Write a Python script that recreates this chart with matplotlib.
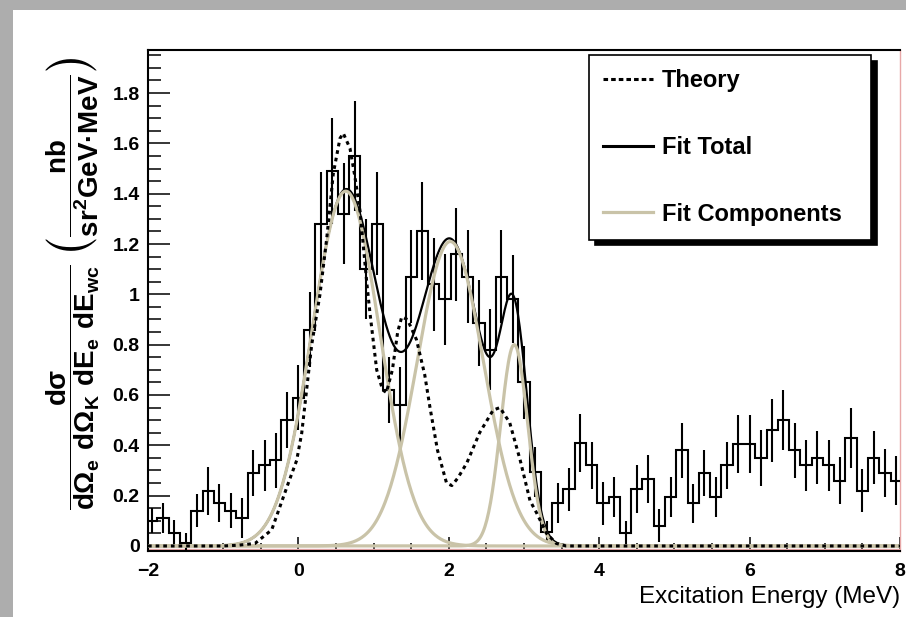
import numpy as np
import matplotlib
matplotlib.use("Agg")
import matplotlib.pyplot as plt
from matplotlib.lines import Line2D
from matplotlib.patches import Rectangle
from matplotlib.ticker import MultipleLocator, FuncFormatter

# --- histogram, 0.15 MeV bins, first bin centred at -1.95 MeV
bin_width = 0.15
first_centre = -1.95
counts = [0.10, 0.11, 0.05, 0.01, 0.14, 0.22, 0.17, 0.14, 0.11, 0.29,
          0.32, 0.34, 0.50, 0.59, 0.86, 1.28, 1.49, 1.32, 1.55, 1.10,
          1.28, 0.62, 0.56, 1.07, 1.25, 1.04, 0.98, 1.16, 1.07, 0.885,
          0.78, 1.07, 0.98, 0.65, 0.295, 0.055, 0.17, 0.225, 0.41, 0.32,
          0.17, 0.195, 0.05, 0.225, 0.265, 0.08, 0.195, 0.38, 0.17, 0.29,
          0.195, 0.32, 0.405, 0.405, 0.35, 0.46, 0.50, 0.38, 0.32, 0.35,
          0.32, 0.26, 0.43, 0.22, 0.35, 0.29, 0.26]
errors = [0.05, 0.06, 0.055, 0.04, 0.065, 0.095, 0.075, 0.07, 0.08, 0.093,
          0.10, 0.11, 0.11, 0.13, 0.15, 0.205, 0.21, 0.20, 0.22, 0.20,
          0.205, 0.13, 0.15, 0.185, 0.195, 0.185, 0.18, 0.185, 0.185, 0.17,
          0.16, 0.185, 0.175, 0.145, 0.10, 0.045, 0.08, 0.085, 0.115, 0.095,
          0.085, 0.08, 0.05, 0.095, 0.095, 0.065, 0.08, 0.11, 0.078, 0.093,
          0.078, 0.095, 0.115, 0.115, 0.11, 0.125, 0.12, 0.11, 0.10, 0.105,
          0.10, 0.093, 0.12, 0.086, 0.105, 0.096, 0.097]

theory_e = [-2.0, -1.0, -0.8, -0.577, -0.355, -0.134, -0.023, 0.044, 0.177, 0.287,
            0.376, 0.464, 0.553, 0.597, 0.686, 0.75, 0.82, 0.908, 0.95, 1.041,
            1.12, 1.17, 1.25, 1.32, 1.374, 1.45, 1.57, 1.68, 1.75, 1.85,
            1.97, 2.04, 2.12, 2.24, 2.41, 2.59, 2.68, 2.81, 2.95, 3.08,
            3.17, 3.30, 3.43, 3.56, 8.0]
theory_y = [0.0, 0.0, 0.003, 0.01, 0.064, 0.25, 0.34, 0.448, 0.80, 1.0,
            1.22, 1.48, 1.62, 1.64, 1.58, 1.47, 1.33, 1.05, 0.93, 0.70,
            0.62, 0.61, 0.70, 0.85, 0.91, 0.90, 0.82, 0.68, 0.55, 0.38,
            0.25, 0.24, 0.27, 0.33, 0.45, 0.54, 0.55, 0.49, 0.34, 0.18,
            0.13, 0.05, 0.01, 0.0, 0.0]

# --- gaussian fit components (amplitude, mean, sigma)
comp_amp = [1.41, 1.21, 0.80]
comp_mean = [0.63, 2.02, 2.87]
comp_sigma = [0.45, 0.44, 0.18]
fit_lo, fit_hi = -2.0, 8.0

x_ticks = [-2, 0, 2, 4, 6, 8]
legend_labels = ["Theory", "Fit Total", "Fit Components"]

tan = "#c9c3a8"
pink = "#e8a8a8"

plt.rcParams['font.family'] = ['Liberation Sans', 'DejaVu Sans']
plt.rcParams['font.weight'] = 'bold'
plt.rcParams['mathtext.default'] = 'regular'

fig = plt.figure(figsize=(9.06, 6.17), dpi=100, facecolor="#adadad")
# white pad inside the grey canvas
fig.patches.append(Rectangle((13 / 906, 0), 1, 607 / 617, transform=fig.transFigure,
                             facecolor="white", edgecolor="none", zorder=-5))

ax = fig.add_axes([148 / 906, 66 / 617, 752 / 906, 501 / 617])
ax.set_zorder(1)

centres = first_centre + bin_width * np.arange(len(counts))
edges = np.append(centres - bin_width / 2, centres[-1] + bin_width / 2)
edges = np.clip(edges, -2, 8)

ax.stairs(counts, edges, color="black", lw=1.5, baseline=None, zorder=3)
ax.errorbar(centres, counts, yerr=errors, fmt="none", ecolor="black", elinewidth=1.5, capsize=0, zorder=3)

# fit: total underneath, components on top
e_fit = np.linspace(fit_lo, fit_hi, 800)
comps = [a * np.exp(-0.5 * ((e_fit - m) / s) ** 2) for a, m, s in zip(comp_amp, comp_mean, comp_sigma)]
ax.plot(e_fit, np.sum(comps, axis=0), color="black", lw=1.6, zorder=4)
for c in comps:
    ax.plot(e_fit, c, color=tan, lw=2.3, zorder=5)

ax.plot(theory_e, theory_y, color="black", lw=2.2, ls=(0, (1.2, 1.3)), zorder=6)

# thin frame line just above the x axis
ax.axhline(-0.011, color=pink, lw=1.0, zorder=2)

ax.set_xlim(-2, 8)
ax.set_ylim(-0.02, 1.971)
ax.set_xticks(x_ticks)
ax.xaxis.set_minor_locator(MultipleLocator(0.5))
ax.yaxis.set_major_locator(MultipleLocator(0.2))
ax.yaxis.set_minor_locator(MultipleLocator(0.05))
ax.yaxis.set_major_formatter(FuncFormatter(lambda v, p: f"{v:g}"))
ax.tick_params(axis="y", which="major", direction="in", length=16, width=1.1, labelsize=14, pad=6)
ax.tick_params(axis="y", which="minor", direction="in", length=9, width=1.1)
ax.tick_params(axis="x", which="major", direction="in", length=10, width=1.1, labelsize=14, pad=9)
ax.tick_params(axis="x", which="minor", direction="in", length=6, width=1.1)
for s in ["left", "bottom", "top"]:
    ax.spines[s].set_linewidth(1.5)
ax.spines["right"].set_color(pink)
ax.spines["right"].set_linewidth(1.0)

ax.set_xlabel("Excitation Energy (MeV)", fontsize=17.5, fontweight="normal", loc="right")
ax.xaxis.set_label_coords(1.0, -0.091)
ax.xaxis.label.set_va("center")

fig.text(73 / 906, (617 - 283) / 617,
         r"$\dfrac{d\sigma}{d\Omega_{e}\ d\Omega_{K}\ dE_{e}\ dE_{wc}}\ \left(\dfrac{nb}{sr^{2}GeV·MeV}\right)$",
         rotation=90, ha="center", va="center", fontsize=20)

handles = [Line2D([], [], color="black", lw=2.2, ls=(0, (1.5, 1.0))),
           Line2D([], [], color="black", lw=2.2),
           Line2D([], [], color=tan, lw=2.3)]
leg = ax.legend(handles, legend_labels, loc="upper left",
                bbox_to_anchor=(0.5864, 0.609, 0.375, 0.381), mode="expand",
                borderaxespad=0, fancybox=False, framealpha=1, edgecolor="black",
                prop={"weight": "bold", "size": 17}, handlelength=2.1, handletextpad=0.4,
                borderpad=0.6, labelspacing=1.85,
                shadow={"ox": 4, "oy": -4, "facecolor": "black", "edgecolor": "black", "alpha": 1})
leg.get_frame().set_linewidth(1.2)
leg.set_zorder(10)

fig.savefig("out.png", dpi=100, facecolor=fig.get_facecolor())
